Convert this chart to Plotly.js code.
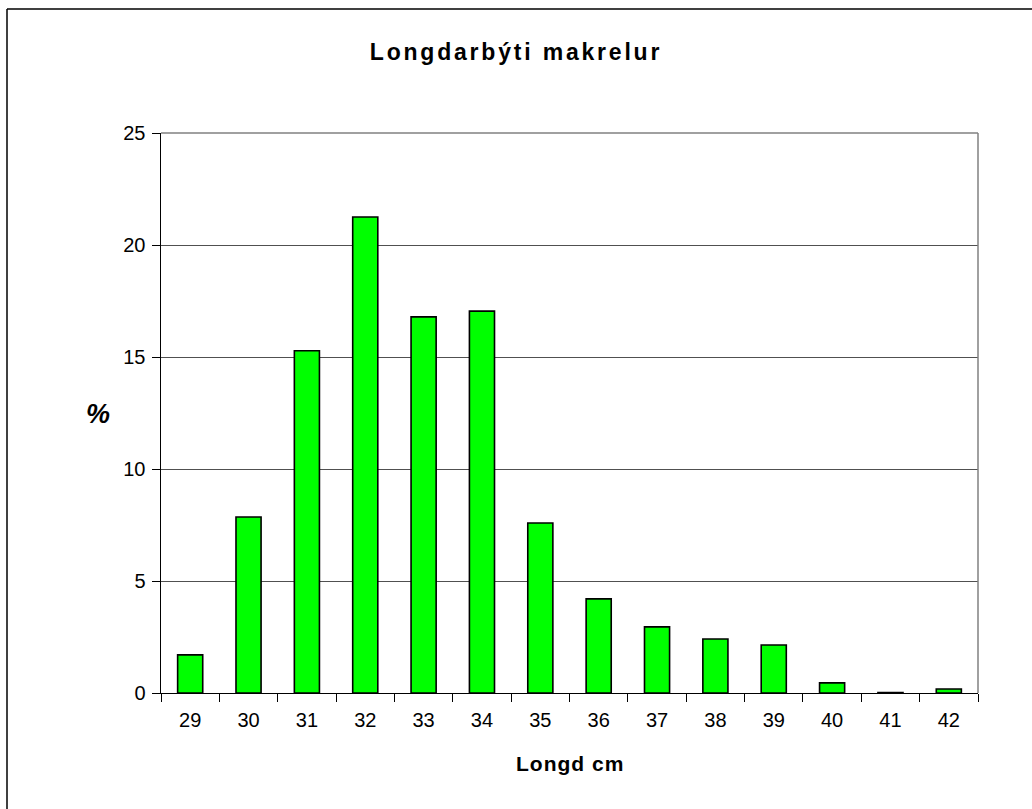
<!DOCTYPE html>
<html>
<head>
<meta charset="utf-8">
<script src="https://cdn.plot.ly/plotly-3.0.1.min.js"></script>
<style>
html,body{margin:0;padding:0;background:#fff;}
#chart{width:1032px;height:809px;}
#chart .gtitle{letter-spacing:2.8px;}
#chart .annotation-text.xlab{letter-spacing:1px;}
</style>
</head>
<body>
<div id="chart"></div>
<script>
const lengths = ['29','30','31','32','33','34','35','36','37','38','39','40','41','42'];
const percent = [1.70, 7.86, 15.28, 21.25, 16.79, 17.05, 7.59, 4.20, 2.95, 2.41, 2.14, 0.45, 0.02, 0.18];
const yTicks = [0, 5, 10, 15, 20, 25];
const chartTitle = 'Longdarbýti makrelur';
const xTitle = 'Longd cm';
const yTitle = '%';

const font = 'Liberation Sans, Arial, sans-serif';
const trace = {
  type: 'bar',
  x: lengths,
  y: percent,
  marker: {color: '#00ff00', line: {color: '#000000', width: 1.6}},
  hoverinfo: 'x+y'
};
const layout = {
  width: 1032, height: 809,
  margin: {l: 161, r: 54, t: 133, b: 116, pad: 0},
  paper_bgcolor: '#ffffff', plot_bgcolor: '#ffffff',
  showlegend: false,
  bargap: 0.57,
  font: {family: font, size: 20, color: '#000'},
  title: {text: chartTitle, x: 0.5, xref: 'container', y: 0.936, yref: 'container', yanchor: 'middle',
          font: {family: font, size: 23, color: '#000', weight: 'bold'}},
  xaxis: {
    type: 'category',
    tickson: 'boundaries',
    ticks: 'outside', ticklen: 8, tickcolor: '#000', tickwidth: 1,
    ticklabelstandoff: 9,
    showline: true, linecolor: '#000', linewidth: 1,
    showgrid: false,
    tickfont: {family: font, size: 20, color: '#000'}
  },
  yaxis: {
    range: [0, 25],
    tickvals: yTicks,
    ticktext: yTicks.map(String),
    ticks: 'outside', ticklen: 8, tickcolor: '#000', tickwidth: 1,
    ticklabelstandoff: 2,
    showline: true, linecolor: '#000', linewidth: 1.5,
    showgrid: true, gridcolor: '#505050', gridwidth: 1,
    zeroline: false,
    tickfont: {family: font, size: 20, color: '#000'}
  },
  annotations: [
    {text: '<b>' + xTitle + '</b>', xref: 'paper', yref: 'paper', x: 0.5, y: (693-763)/560,
     xanchor: 'center', yanchor: 'middle', showarrow: false,
     font: {family: font, size: 21, color: '#000'}},
    {text: '<b><i>' + yTitle + '</i></b>', xref: 'paper', yref: 'paper', x: (98-161)/817, y: (693-414)/560,
     xanchor: 'center', yanchor: 'middle', showarrow: false,
     font: {family: font, size: 27, color: '#000'}}
  ],
  shapes: [
    {type: 'line', xref: 'paper', yref: 'paper', x0: 0, x1: 1, y0: 1, y1: 1, line: {color: '#808080', width: 1.5}},
    {type: 'line', xref: 'paper', yref: 'paper', x0: 1, x1: 1, y0: 0, y1: 1, line: {color: '#808080', width: 1.5}},
    {type: 'line', xref: 'paper', yref: 'paper', x0: (7-161)/817, x1: 1.2, y0: (693-9)/560, y1: (693-9)/560, line: {color: '#000', width: 1.5}},
    {type: 'line', xref: 'paper', yref: 'paper', x0: (7-161)/817, x1: (7-161)/817, y0: (693-9)/560, y1: -0.3, line: {color: '#000', width: 1.5}}
  ]
};
Plotly.newPlot('chart', [trace], layout, {displayModeBar: false, staticPlot: true}).then(function(){
  document.querySelectorAll('#chart .annotation-text').forEach(function(t, i){ if (i === 0) t.classList.add('xlab'); });
});
</script>
</body>
</html>
